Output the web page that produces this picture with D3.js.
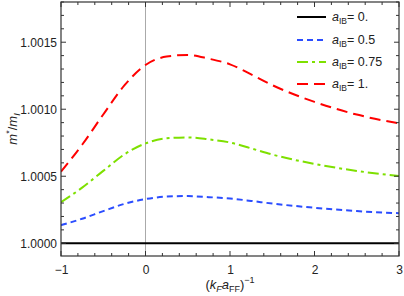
<!DOCTYPE html>
<html><head><meta charset="utf-8">
<script src="https://cdn.jsdelivr.net/npm/d3@7"></script>
<style>body{margin:0;background:#fff}svg{display:block;font-family:"Liberation Sans",Arial,sans-serif}</style>
</head><body><svg id="c" width="404" height="296"></svg>
<script>
const xs = [-1, -0.75, -0.5, -0.25, 0, 0.25, 0.5, 0.75, 1, 1.25, 1.5, 2, 2.5, 3];
const yA0   = [0,0,0,0,0,0,0,0,0,0,0,0,0,0];
const yA05  = [0.000135,0.000183,0.000240,0.000294,0.000330,0.000348,0.000352,0.000344,0.000334,0.000316,0.000296,0.000265,0.000240,0.000224];
const yA075 = [0.000306,0.000415,0.000540,0.000663,0.000745,0.000783,0.000790,0.000775,0.000752,0.000708,0.000662,0.000592,0.000540,0.000501];
const yA1   = [0.000534,0.000735,0.000961,0.001178,0.001330,0.001393,0.001405,0.001377,0.001335,0.001260,0.001180,0.001055,0.000960,0.000894];
const seriesNames = ["0.", "0.5", "0.75", "1."];
const xTicks = [-1, 0, 1, 2, 3];
const yTicks = [1.0000, 1.0005, 1.0010, 1.0015];
const yTickLabels = ["1.0000", "1.0005", "1.0010", "1.0015"];

const series = [
  {name: seriesNames[0], vals: yA0,   color: "#000000", dash: null},
  {name: seriesNames[1], vals: yA05,  color: "#2b4dff", dash: "6,4"},
  {name: seriesNames[2], vals: yA075, color: "#7ee000", dash: "11,4,3,4"},
  {name: seriesNames[3], vals: yA1,   color: "#ff0000", dash: "11,6"}
];

const L = 61, R = 399, T = 2, B = 256;
const svg = d3.select("#c");
const x = d3.scaleLinear().domain([-1, 3]).range([L, R]);
const y = d3.scaleLinear().domain([0.999905, 1.00180]).range([B, T]);

svg.append("line").attr("x1", x(0)).attr("x2", x(0)).attr("y1", T).attr("y2", B)
  .attr("stroke", "#aaa").attr("stroke-width", 1);

const g = svg.append("g");
svg.append("clipPath").attr("id","cp").append("rect")
  .attr("x", L).attr("y", T).attr("width", R-L).attr("height", B-T);
const line = d3.line().x(d => x(d[0])).y(d => y(1 + d[1])).curve(d3.curveMonotoneX);
series.forEach(s => {
  g.append("path").attr("d", line(xs.map((v,i)=>[v, s.vals[i]])))
    .attr("fill","none").attr("stroke", s.color).attr("stroke-width", 2)
    .attr("stroke-dasharray", s.dash).attr("clip-path","url(#cp)");
});

const axCol = "#333";
const xMinor = d3.range(-1, 3.0001, 0.2);
const yMinor = d3.range(1.0000, 1.00181, 0.0001);
function tickLines(grp, vals, len, orient) {
  vals.forEach(v => {
    if (orient === "b") grp.append("line").attr("x1", x(v)).attr("x2", x(v)).attr("y1", B).attr("y2", B-len);
    if (orient === "t") grp.append("line").attr("x1", x(v)).attr("x2", x(v)).attr("y1", T).attr("y2", T+len);
    if (orient === "l") grp.append("line").attr("y1", y(v)).attr("y2", y(v)).attr("x1", L).attr("x2", L+len);
    if (orient === "r") grp.append("line").attr("y1", y(v)).attr("y2", y(v)).attr("x1", R).attr("x2", R-len);
  });
}
const tg = svg.append("g").attr("stroke", axCol).attr("stroke-width", 1);
["b","t"].forEach(o => { tickLines(tg, xTicks, 5, o); tickLines(tg, xMinor.filter(v => Math.abs(v - Math.round(v)) > 1e-6), 3, o); });
["l","r"].forEach(o => { tickLines(tg, yTicks, 5, o); tickLines(tg, yMinor.filter(v => !yTicks.some(t => Math.abs(t-v) < 1e-7)), 3, o); });
svg.append("rect").attr("x", L).attr("y", T).attr("width", R-L).attr("height", B-T)
  .attr("fill","none").attr("stroke", axCol).attr("stroke-width", 1.2);

const xAxis = d3.axisBottom(x).tickValues(xTicks).tickSize(0).tickPadding(9)
  .tickFormat(d => d < 0 ? "\u2212" + Math.abs(d) : String(d));
const xa = svg.append("g").attr("transform", `translate(0,${B})`).call(xAxis);
xa.select(".domain").remove();
xa.selectAll("text").attr("font-size", 12).attr("fill", "#222").attr("font-family", "Liberation Sans, Arial, sans-serif");
const yAxis = d3.axisLeft(y).tickValues(yTicks).tickSize(0).tickPadding(4)
  .tickFormat((d,i) => yTickLabels[i]);
const ya = svg.append("g").attr("transform", `translate(${L},0)`).call(yAxis);
ya.select(".domain").remove();
ya.selectAll("text").attr("font-size", 12).attr("fill", "#222").attr("font-family", "Liberation Sans, Arial, sans-serif");

const xl = svg.append("text").attr("x", (L+R)/2).attr("y", 289).attr("text-anchor","middle")
  .attr("font-size", 13).attr("fill", "#222");
xl.append("tspan").text("(");
xl.append("tspan").attr("font-style","italic").text("k");
xl.append("tspan").attr("font-style","italic").attr("font-size", 9).attr("dy", 3).text("F");
xl.append("tspan").attr("font-style","italic").attr("dy", -3).text("a");
xl.append("tspan").attr("font-size", 9).attr("dy", 3).text("FF");
xl.append("tspan").attr("dy", -3).text(")");
xl.append("tspan").attr("font-size", 9).attr("dy", -6).text("\u22121");

const yl = svg.append("text").attr("transform", `translate(17,${(T+B)/2}) rotate(-90)`)
  .attr("text-anchor","middle").attr("font-size", 13).attr("fill", "#222");
yl.append("tspan").attr("font-style","italic").text("m");
yl.append("tspan").attr("font-size", 9).attr("dy", -5).text("*");
yl.append("tspan").attr("dy", 5).text("/");
yl.append("tspan").attr("font-style","italic").text("m");
yl.append("tspan").attr("font-style","italic").attr("font-size", 9).attr("dy", 3).text("I");

const legY = [17, 40, 62, 84];
series.forEach((s, i) => {
  svg.append("line").attr("x1", 297).attr("x2", 326).attr("y1", legY[i]).attr("y2", legY[i])
    .attr("stroke", s.color).attr("stroke-width", 2).attr("stroke-dasharray", s.dash);
  const t = svg.append("text").attr("x", 332).attr("y", legY[i] + 4).attr("font-size", 12.5).attr("fill", "#222");
  t.append("tspan").attr("font-style","italic").text("a");
  t.append("tspan").attr("font-size", 8.5).attr("dy", 3).text("IB");
  t.append("tspan").attr("dy", -3).text("= " + s.name);
});
</script></body></html>
